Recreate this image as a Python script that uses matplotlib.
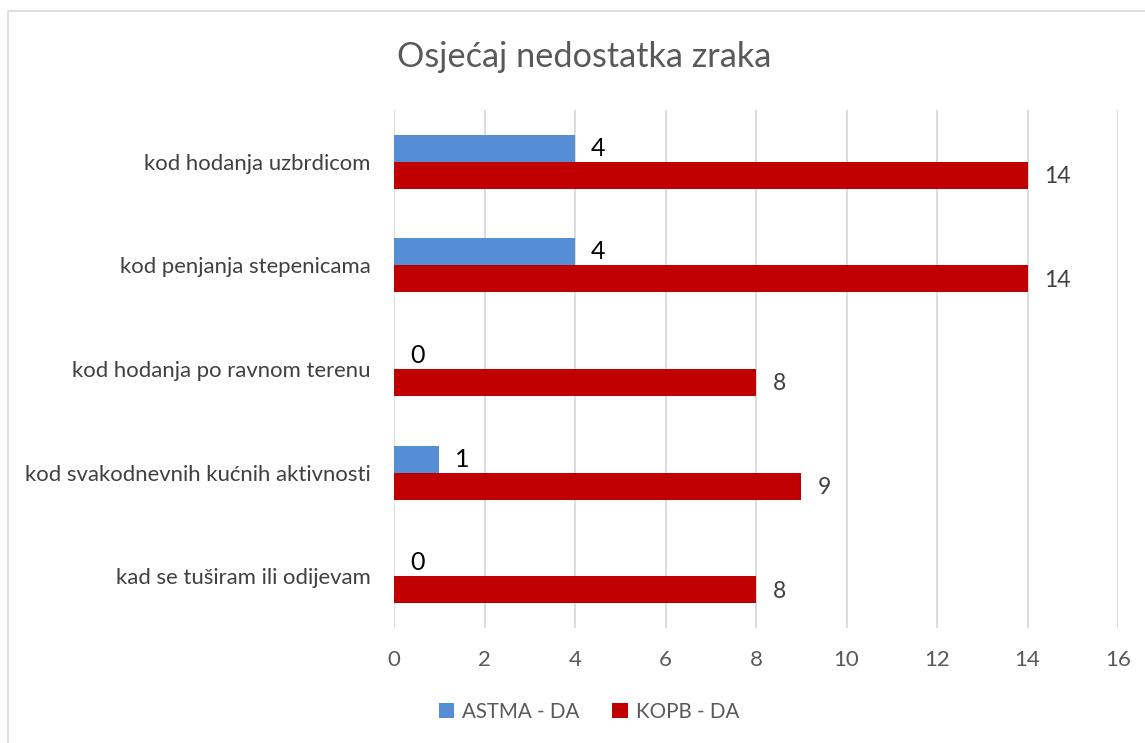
import matplotlib
matplotlib.use("Agg")
import matplotlib.pyplot as plt
from matplotlib.patches import Rectangle
import numpy as np

categories = ["kod hodanja uzbrdicom", "kod penjanja stepenicama",
              "kod hodanja po ravnom terenu", "kod svakodnevnih kućnih aktivnosti",
              "kad se tuširam ili odijevam"]
astma = [4, 4, 0, 1, 0]
kopb = [14, 14, 8, 9, 8]
series_names = ["ASTMA - DA", "KOPB - DA"]
xticks = [0, 2, 4, 6, 8, 10, 12, 14, 16]

plt.rcParams['font.family'] = ['Lato', 'DejaVu Sans']
W, H = 1145, 743
fig = plt.figure(figsize=(W/100, H/100), dpi=100)
fig.patches.append(Rectangle((8/W, -0.01), 1.2, (743-11)/H + 0.01, transform=fig.transFigure,
                             fill=False, edgecolor='#d9d9d9', linewidth=1.2))

ax = fig.add_axes([394/W, (743-628)/H, (1118-394)/W, (628-110)/H])
n = len(categories)
y = np.arange(n)
bh = 0.26
ax.barh(y - bh/2, astma, height=bh, color='#558ed5', label=series_names[0], zorder=3)
ax.barh(y + bh/2, kopb, height=bh, color='#c00000', label=series_names[1], zorder=3)
ax.set_ylim(n - 0.5, -0.5)
ax.set_xlim(0, 16)
ax.set_xticks(xticks)
ax.set_xticklabels([str(t) for t in xticks])
ax.set_yticks(y)
ax.set_yticklabels(categories)
ax.tick_params(axis='x', length=0, colors='#595959', labelsize=16)
ax.tick_params(axis='y', length=0, colors='#595959', labelsize=15.9)
ax.tick_params(axis='x', pad=16)
ax.tick_params(axis='y', pad=17, labelcolor='#404040')
for s in ax.spines.values():
    s.set_visible(False)
ax.grid(axis='x', color='#d9d9d9', linewidth=1.3, zorder=0)
ax.set_axisbelow(True)

for i in range(n):
    ax.annotate(str(astma[i]), (astma[i], y[i] - bh/2), xytext=(11.5, 0), textcoords='offset points',
                va='center', ha='left', fontsize=18, color='#000000')
    ax.annotate(str(kopb[i]), (kopb[i], y[i] + bh/2), xytext=(12, -1), textcoords='offset points',
                va='center', ha='left', fontsize=16.5, color='#404040')

fig.text(584/W, 1 - 57/H, "Osjećaj nedostatka zraka", ha='center', va='center',
         fontsize=24.7, color='#595959')

leg = fig.legend(loc='center', bbox_to_anchor=(589/W, 1 - 712/H), ncol=2, frameon=False,
                 fontsize=14.8, handlelength=0.75, handleheight=0.75, columnspacing=1.6,
                 handletextpad=0.4)
for t in leg.get_texts():
    t.set_color('#595959')

fig.savefig("out.png", dpi=100, facecolor='white')
